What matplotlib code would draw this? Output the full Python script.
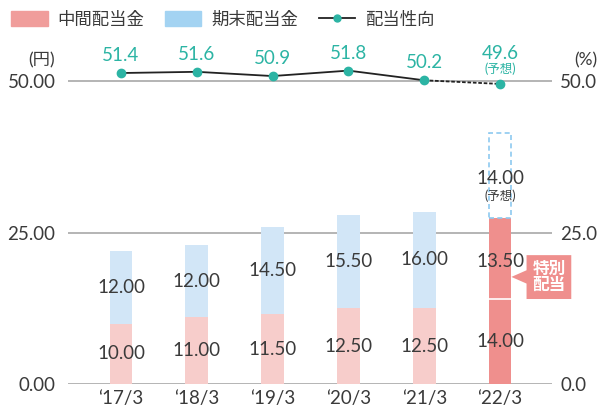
import matplotlib.pyplot as plt
from matplotlib.patches import Patch, Polygon
from matplotlib.lines import Line2D

plt.rcParams['font.family'] = ['Lato', 'Noto Sans CJK JP', 'DejaVu Sans']

years = ['‘17/3', '‘18/3', '‘19/3', '‘20/3', '‘21/3', '‘22/3']
interim = [10.00, 11.00, 11.50, 12.50, 12.50, 14.00]
year_end = [12.00, 12.00, 14.50, 15.50, 16.00]
special = 13.50
forecast = 14.00
payout = [51.4, 51.6, 50.9, 51.8, 50.2, 49.6]

PINK = '#f7cdcb'
PINK_DARK = '#ef8f8d'
BLUE = '#d2e6f7'
BLUE_EDGE = '#8ec9f0'
TEAL = '#2cb4a4'
TXT = '#3a3a3a'
GRID = '#a8a8a8'
FS = 13.5

fig = plt.figure(figsize=(6.01, 4.09), dpi=100)
ax = fig.add_axes([0.1131, 0.0611, 0.8054, 0.8284])
ax2 = ax.twinx()

x = list(range(len(years)))
w = 0.30

for y in (0, 25, 50):
    ax.axhline(y, color=GRID, lw=1.2, zorder=0)

# ordinary years
n = len(year_end)
ax.bar(x[:n], interim[:n], w, color=PINK, zorder=2)
ax.bar(x[:n], year_end, w, bottom=interim[:n], color=BLUE, zorder=2)
for i in range(n):
    ax.text(x[i], interim[i] / 2, f'{interim[i]:.2f}', ha='center', va='center',
            fontsize=FS, color=TXT, zorder=5)
    ax.text(x[i], interim[i] + year_end[i] / 2, f'{year_end[i]:.2f}', ha='center',
            va='center', fontsize=FS, color=TXT, zorder=5)

# latest year: interim + special dividend + forecast year-end
k = len(years) - 1
ax.bar(x[k], interim[k], w, color=PINK_DARK, zorder=2)
ax.bar(x[k], special, w, bottom=interim[k], color=PINK_DARK, zorder=2)
ax.plot([x[k] - w / 2, x[k] + w / 2], [interim[k]] * 2, color='white', lw=1.2, zorder=3)
ax.bar(x[k], forecast, w, bottom=interim[k] + special, facecolor='white',
       edgecolor=BLUE_EDGE, linestyle=(0, (3, 2)), lw=1.2, zorder=2)
ax.text(x[k], interim[k] / 2, f'{interim[k]:.2f}', ha='center', va='center',
        fontsize=FS, color=TXT, zorder=5)
ax.text(x[k], interim[k] + special / 2 - 0.5, f'{special:.2f}', ha='center', va='center',
        fontsize=FS, color=TXT, zorder=5)
top = interim[k] + special
ax.text(x[k], top + forecast / 2 - 0.6, f'{forecast:.2f}', ha='center', va='center',
        fontsize=FS, color=TXT, zorder=5)
ax.text(x[k], top + forecast / 2 - 3.4, '(予想)', ha='center', va='center',
        fontsize=9, color=TXT, zorder=5)

# callout for the special dividend
bx0, bx1 = x[k] + w / 2 + 0.2, x[k] + w / 2 + 0.79
by0, by1 = 14.05, 21.3
tip = (x[k] + w / 2 + 0.0, 17.7)
callout = Polygon([(bx0, by1), (bx1, by1), (bx1, by0), (bx0, by0), (bx0, 16.6), tip,
                   (bx0, 18.8)], closed=True, facecolor=PINK_DARK, edgecolor='none',
                  zorder=4, clip_on=False)
ax.add_patch(callout)
ax.text((bx0 + bx1) / 2, (by0 + by1) / 2, '特別\n配当', ha='center', va='center',
        fontsize=12, color='white', fontweight='bold', linespacing=1.0, zorder=5)

# payout ratio line
ax2.plot(x[:k], payout[:k], color='#222222', lw=1.3, zorder=3)
ax2.plot(x[k - 1:], payout[k - 1:], color='#222222', lw=1.3, ls=(0, (2, 1)), zorder=3)
ax2.plot(x, payout, 'o', color=TEAL, ms=6, zorder=4)
for i, v in enumerate(payout):
    if i == k:
        ax2.annotate(f'{v}', (x[i], v), xytext=(0, 22), textcoords='offset points',
                     ha='center', va='center', fontsize=FS, color=TEAL)
        ax2.annotate('(予想)', (x[i], v), xytext=(0, 11), textcoords='offset points',
                     ha='center', va='center', fontsize=9, color=TEAL)
    else:
        ax2.annotate(f'{v}', (x[i], v), xytext=(0, 12.5), textcoords='offset points',
                     ha='center', va='center', fontsize=FS, color=TEAL)

for a in (ax, ax2):
    a.set_ylim(0, 56)
    a.set_xlim(-0.699, 5.686)
    for s in a.spines.values():
        s.set_visible(False)
    a.tick_params(length=0, labelsize=FS, labelcolor=TXT)

ax.set_yticks([0, 25, 50], ['0.00', '25.00', '50.00'])
ax.tick_params(axis='y', pad=9)
ax2.set_yticks([0, 25, 50], ['0.0', '25.0', '50.0'])
ax2.tick_params(axis='y', pad=6)
ax.set_xticks(x, years)
ax.tick_params(axis='x', pad=4)

fig.text(55 / 601, 1 - 60 / 409, '(円)', ha='right', va='center', fontsize=12.5, color=TXT)
fig.text(597 / 601, 1 - 60 / 409, '(%)', ha='right', va='center', fontsize=12.5, color=TXT)

handles = [Patch(color='#f09d9b'), Patch(color='#a3d3f2'),
           Line2D([], [], color='#222222', lw=1.3, marker='o', mfc=TEAL, mec=TEAL, ms=5)]
fig.legend(handles, ['中間配当金', '期末配当金', '配当性向'], loc='upper left',
           bbox_to_anchor=(0.0, 1.0), ncol=3, frameon=False, fontsize=12.5,
           handlelength=2.1, handleheight=0.95, handletextpad=0.55, columnspacing=1.2,
           labelcolor=TXT, borderaxespad=0.25)

fig.savefig('out.png', dpi=100)
